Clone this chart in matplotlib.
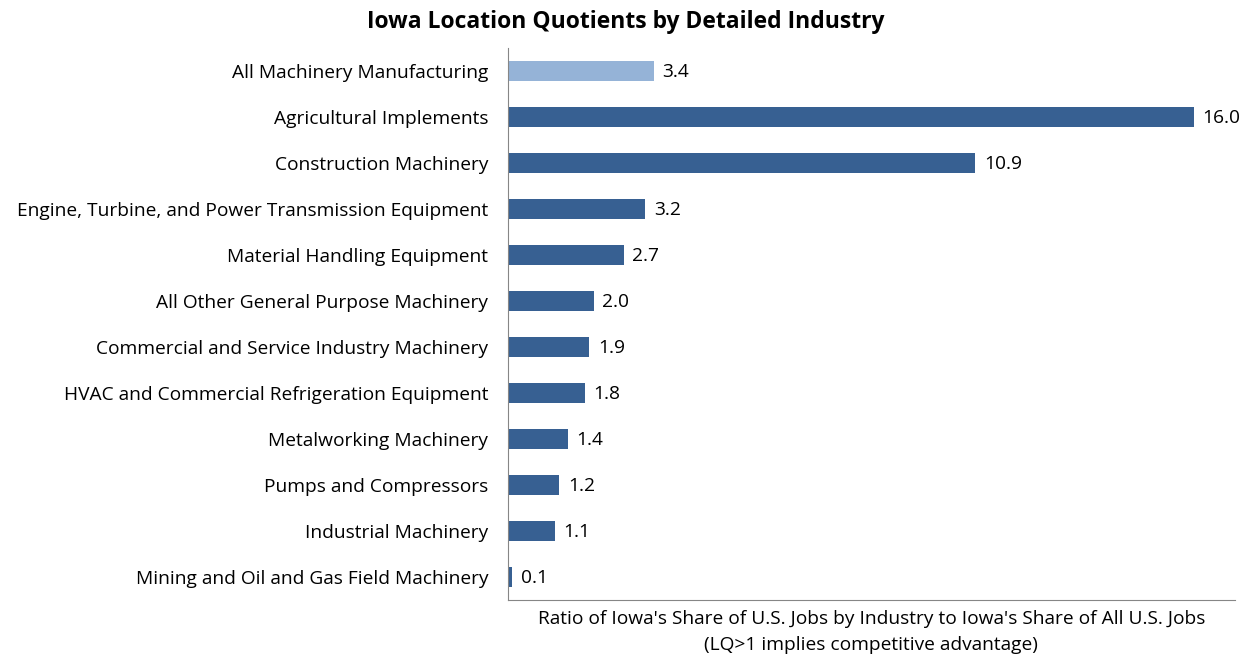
import matplotlib.pyplot as plt

plt.rcParams['font.family'] = ['Open Sans', 'DejaVu Sans']

industries = [
    "All Machinery Manufacturing",
    "Agricultural Implements",
    "Construction Machinery",
    "Engine, Turbine, and Power Transmission Equipment",
    "Material Handling Equipment",
    "All Other General Purpose Machinery",
    "Commercial and Service Industry Machinery",
    "HVAC and Commercial Refrigeration Equipment",
    "Metalworking Machinery",
    "Pumps and Compressors",
    "Industrial Machinery",
    "Mining and Oil and Gas Field Machinery",
]
lq = [3.4, 16.0, 10.9, 3.2, 2.7, 2.0, 1.9, 1.8, 1.4, 1.2, 1.1, 0.1]

dark = '#376092'
light = '#95b3d7'
colors = [light] + [dark] * (len(lq) - 1)

fig = plt.figure(figsize=(12.51, 6.58), dpi=100)
ax = fig.add_axes([0.406, 0.088, 0.581, 0.839])

y = list(range(len(lq)))
ax.barh(y, lq, height=0.42, color=colors)
ax.set_ylim(len(lq) - 0.5, -0.5)
ax.set_xlim(0, 16.95)

for yi, v in zip(y, lq):
    ax.text(v + 0.2, yi + 0.03, f"{v:.1f}", va='center', ha='left', fontsize=13.8)

ax.set_yticks(y)
ax.set_yticklabels(industries, fontsize=13.8)
ax.tick_params(axis='y', length=0, pad=14)
ax.set_xticks([])

for s in ['top', 'right']:
    ax.spines[s].set_visible(False)
ax.spines['left'].set_color('#868686')
ax.spines['bottom'].set_color('#868686')

ax.set_xlabel("Ratio of Iowa's Share of U.S. Jobs by Industry to Iowa's Share of All U.S. Jobs\n(LQ>1 implies competitive advantage)",
              fontsize=13.8, labelpad=7, linespacing=1.55)

fig.suptitle("Iowa Location Quotients by Detailed Industry", fontsize=16.5, fontweight='bold',
             x=0.5, y=0.985)

fig.savefig('out.png', dpi=100)
